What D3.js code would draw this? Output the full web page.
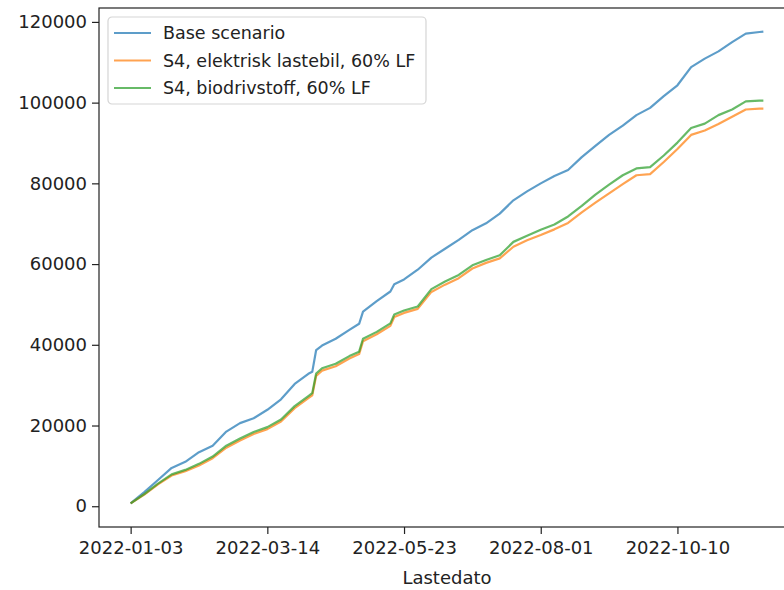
<!DOCTYPE html>
<html>
<head>
<meta charset="utf-8">
<script src="https://cdn.jsdelivr.net/npm/d3@7"></script>
<style>
  body { margin: 0; background: #fff; }
  text { font-family: "DejaVu Sans", sans-serif; }
</style>
</head>
<body>
<div id="chart"></div>
<script>
// Dates of the samples (weekly, plus a few points around the jumps)
const dates = [
    '2022-01-03', '2022-01-10', '2022-01-17', '2022-01-24', '2022-01-31', '2022-02-07',
    '2022-02-14', '2022-02-21', '2022-02-28', '2022-03-07', '2022-03-14', '2022-03-21',
    '2022-03-28', '2022-04-04', '2022-04-06', '2022-04-08', '2022-04-11', '2022-04-18',
    '2022-04-25', '2022-04-30', '2022-05-02', '2022-05-09', '2022-05-16', '2022-05-18',
    '2022-05-23', '2022-05-30', '2022-06-06', '2022-06-13', '2022-06-20', '2022-06-27',
    '2022-07-04', '2022-07-11', '2022-07-18', '2022-07-25', '2022-08-01', '2022-08-08',
    '2022-08-15', '2022-08-22', '2022-08-29', '2022-09-05', '2022-09-12', '2022-09-19',
    '2022-09-26', '2022-10-03', '2022-10-10', '2022-10-17', '2022-10-24', '2022-10-31',
    '2022-11-07', '2022-11-14', '2022-11-21', '2022-11-23'
];

const baseScenario = [
    700, 3500, 6500, 9500, 11000, 13400, 15000, 18500, 20600, 21800, 23900, 26500,
    30300, 32800, 33300, 38700, 39800, 41500, 43700, 45200, 48200, 50800, 53200, 55000,
    56200, 58600, 61600, 63800, 66000, 68400, 70100, 72500, 75800, 78000, 80000, 81800,
    83300, 86500, 89300, 92000, 94300, 96900, 98700, 101600, 104300, 108800, 110900, 112700,
    115000, 117100, 117500, 117600
];

const elektrisk = [
    700, 2900, 5400, 7600, 8700, 10100, 11900, 14500, 16300, 17900, 19100, 21000,
    24300, 26800, 27500, 32300, 33600, 34700, 36600, 37700, 40900, 42600, 44700, 46900,
    47900, 48900, 53100, 54900, 56500, 58900, 60300, 61400, 64300, 65900, 67200, 68600,
    70200, 72800, 75200, 77500, 79800, 82000, 82300, 85300, 88500, 92000, 93100, 94700,
    96500, 98300, 98500, 98500
];

const biodrivstoff = [
    700, 3000, 5600, 7900, 9000, 10500, 12300, 15000, 16800, 18400, 19600, 21500,
    24800, 27300, 28000, 32900, 34200, 35300, 37200, 38300, 41500, 43200, 45300, 47500,
    48500, 49500, 53800, 55700, 57300, 59700, 61000, 62200, 65500, 67000, 68500, 69800,
    71800, 74400, 77200, 79700, 82000, 83700, 84000, 86900, 90100, 93700, 94800, 96900,
    98300, 100300, 100500, 100500
];

const seriesNames = ['Base scenario', 'S4, elektrisk lastebil, 60% LF', 'S4, biodrivstoff, 60% LF'];
const seriesColors = ['#1f77b4', '#ff7f0e', '#2ca02c'];
const xTickLabels = ['2022-01-03', '2022-03-14', '2022-05-23', '2022-08-01', '2022-10-10'];
const yTickValues = [0, 20000, 40000, 60000, 80000, 100000, 120000];

const parseDate = d3.timeParse('%Y-%m-%d');
const allSeries = [baseScenario, elektrisk, biodrivstoff].map((vals, i) => ({
    name: seriesNames[i],
    color: seriesColors[i],
    points: vals.map((v, j) => ({ date: parseDate(dates[j]), value: v }))
}));

const width = 784;
const height = 590;
const margin = { top: 8, right: -11, bottom: 63, left: 99 };
const innerW = width - margin.left - margin.right;
const innerH = height - margin.top - margin.bottom;

const svg = d3.select('#chart')
    .append('svg')
    .attr('width', width)
    .attr('height', height);

const g = svg.append('g')
    .attr('transform', `translate(${margin.left}, ${margin.top})`);

// matplotlib-like 5% margins around the data
const xExt = d3.extent(dates, d => parseDate(d));
const xPad = (xExt[1] - xExt[0]) * 0.05;
const xScale = d3.scaleTime()
    .domain([new Date(+xExt[0] - xPad), new Date(+xExt[1] + xPad)])
    .range([0, innerW]);

const allVals = baseScenario.concat(elektrisk, biodrivstoff);
const yMin = d3.min(allVals), yMax = d3.max(allVals);
const yPad = (yMax - yMin) * 0.05;
const yScale = d3.scaleLinear()
    .domain([yMin - yPad, yMax + yPad])
    .range([innerH, 0]);

// Lines
const line = d3.line()
    .x(d => xScale(d.date))
    .y(d => yScale(d.value));

g.selectAll('.series')
    .data(allSeries)
    .enter()
    .append('path')
    .attr('class', 'series')
    .attr('d', d => line(d.points))
    .attr('fill', 'none')
    .attr('stroke', d => d.color)
    .attr('stroke-opacity', 0.72)
    .attr('stroke-width', 2.2)
    .attr('stroke-linejoin', 'round');

// Axes
const xAxis = d3.axisBottom(xScale)
    .tickValues(xTickLabels.map(parseDate))
    .tickFormat(d3.timeFormat('%Y-%m-%d'))
    .tickSize(7)
    .tickPadding(7);

const yAxis = d3.axisLeft(yScale)
    .tickValues(yTickValues)
    .tickFormat(d3.format('d'))
    .tickSize(7)
    .tickPadding(5);

const gx = g.append('g')
    .attr('transform', `translate(0, ${innerH})`)
    .call(xAxis);

const gy = g.append('g')
    .call(yAxis);

[gx, gy].forEach(ax => {
    ax.select('.domain').remove();
    ax.selectAll('line').attr('stroke', '#222').attr('stroke-width', 1.2);
    ax.selectAll('text').attr('fill', '#222').style('font-size', '18px');
});

// Spines
g.append('rect')
    .attr('x', 0)
    .attr('y', 0)
    .attr('width', innerW)
    .attr('height', innerH)
    .attr('fill', 'none')
    .attr('stroke', '#222')
    .attr('stroke-width', 1.2);

// Axis label
g.append('text')
    .attr('x', innerW / 2)
    .attr('y', innerH + 57)
    .attr('text-anchor', 'middle')
    .attr('fill', '#222')
    .style('font-size', '18px')
    .text('Lastedato');

// Legend
const legend = g.append('g')
    .attr('transform', 'translate(9, 9)');

legend.append('rect')
    .attr('width', 318)
    .attr('height', 87)
    .attr('rx', 4)
    .attr('fill', '#fff')
    .attr('fill-opacity', 0.8)
    .attr('stroke', '#d5d5d5')
    .attr('stroke-width', 1.2);

const items = legend.selectAll('.item')
    .data(allSeries)
    .enter()
    .append('g')
    .attr('class', 'item')
    .attr('transform', (d, i) => `translate(0, ${16 + i * 27.5})`);

items.append('line')
    .attr('x1', 6)
    .attr('x2', 43)
    .attr('stroke', d => d.color)
    .attr('stroke-opacity', 0.72)
    .attr('stroke-width', 2.2);

items.append('text')
    .attr('x', 55)
    .attr('dy', '0.35em')
    .attr('fill', '#222')
    .style('font-size', '17.5px')
    .text(d => d.name);
</script>
</body>
</html>
